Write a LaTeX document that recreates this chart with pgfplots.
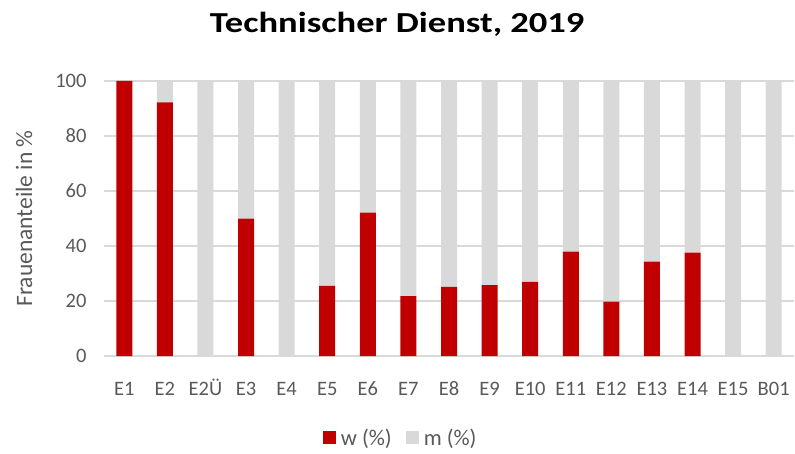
\documentclass[border=0pt]{standalone}
\usepackage{fontspec}
\setmainfont{Carlito}
\newfontfamily\titlefont{Carlito}[FakeStretch=1.26]
\usepackage{pgfplots}
\pgfplotsset{compat=1.18}
\definecolor{wred}{HTML}{C00000}
\definecolor{mgrey}{HTML}{D9D9D9}
\definecolor{txtgrey}{HTML}{595959}
\begin{document}
\begin{tikzpicture}
\useasboundingbox (-104pt,-97pt) rectangle (691pt,356pt);
\begin{axis}[
  at={(0pt,0pt)}, anchor=south west,
  scale only axis, width=690pt, height=275pt,
  ybar stacked, bar width=16pt,
  xmin=-0.5, xmax=16.5, ymin=0, ymax=100,
  xtick=data,
  xticklabels={E1,E2,E2Ü,E3,E4,E5,E6,E7,E8,E9,E10,E11,E12,E13,E14,E15,B01},
  ytick={0,20,40,60,80,100},
  major tick length=0pt,
  ymajorgrids, grid style={mgrey, line width=1.5pt},
  axis x line*=bottom, axis y line*=left,
  y axis line style={draw=none},
  x axis line style={draw=mgrey, line width=1.5pt, -},
  /pgf/number format/assume math mode=true,
  tick label style={font=\fontsize{20.5}{24}\selectfont, text=txtgrey},
  yticklabel style={xshift=-14pt},
  xticklabel style={anchor=base, yshift=-39pt},
  ylabel={Frauenanteile in \%},
  every axis y label/.style={at={(axis description cs:0,0.5)}, xshift=-80pt, rotate=90, anchor=center,
    font=\fontsize{23.5}{27}\selectfont, text=txtgrey},
  title={\titlefont\bfseries Technischer Dienst, 2019},
  every axis title/.style={at={(axis description cs:0.425,1)}, anchor=base, yshift=48pt,
    font=\fontsize{29}{34}\selectfont},
  legend style={at={(axis description cs:0.43,-0.298)}, anchor=center, draw=none, legend columns=2,
    font=\fontsize{22.5}{26}\selectfont, text=txtgrey, /tikz/every even column/.append style={column sep=12pt}},
  legend image code/.code={\fill[#1] (0pt,-6.5pt) rectangle (13pt,6.5pt); \path (16pt,0pt);},
]
\addplot[fill=wred, draw=none] coordinates {
 (0,100) (1,92.2) (2,0) (3,50) (4,0) (5,25.5) (6,52.1) (7,21.8) (8,25.1) (9,25.8)
 (10,27.0) (11,38.0) (12,19.8) (13,34.3) (14,37.6) (15,0) (16,0)};
\addplot[fill=mgrey, draw=none] coordinates {
 (0,0) (1,7.8) (2,100) (3,50) (4,100) (5,74.5) (6,47.9) (7,78.2) (8,74.9) (9,74.2)
 (10,73.0) (11,62.0) (12,80.2) (13,65.7) (14,62.4) (15,100) (16,100)};
\legend{w (\%), m (\%)}
\end{axis}
\end{tikzpicture}
\end{document}
